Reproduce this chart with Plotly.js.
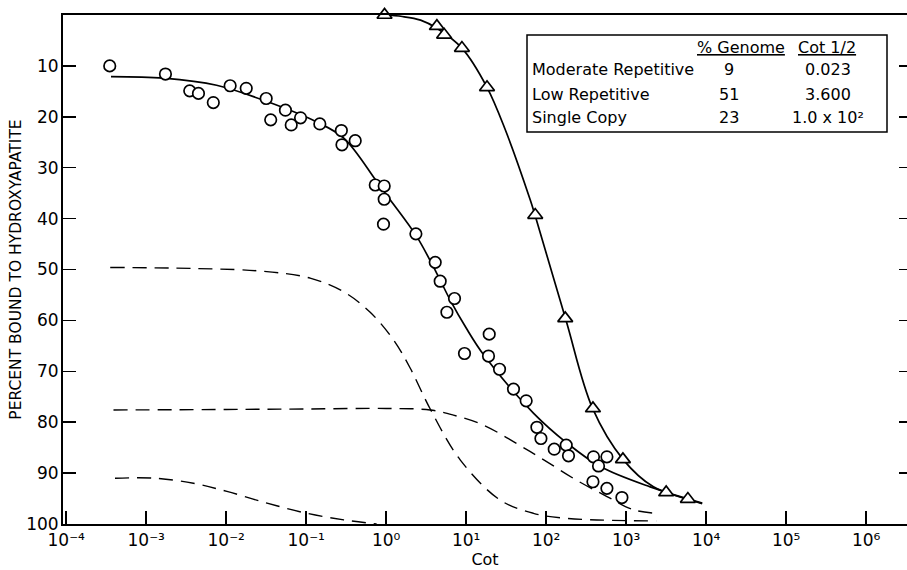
<!DOCTYPE html>
<html>
<head>
<meta charset="utf-8">
<script src="https://cdn.plot.ly/plotly-3.0.1.min.js"></script>
<style>html,body{margin:0;padding:0;background:#fff;}#chart{width:907px;height:570px;}</style>
</head>
<body>
<div id="chart"></div>
<script>
// ---- data ----
// open circles (whole DNA)
var circleCot = [0.00035, 0.00174, 0.0035, 0.0045, 0.0069, 0.0112, 0.0178, 0.0316, 0.036, 0.055, 0.065, 0.085, 0.148, 0.275, 0.28, 0.41, 0.73, 0.944, 0.944, 0.925, 2.35, 4.1, 4.73, 7.14, 5.74, 19.4, 9.52, 19.0, 26.1, 39.0, 56.2, 76.5, 85.9, 126, 178, 190, 390, 574, 451, 384, 574, 884];
var circlePct = [10.0, 11.6, 14.9, 15.4, 17.2, 13.9, 14.4, 16.4, 20.6, 18.7, 21.6, 20.2, 21.4, 22.7, 25.5, 24.7, 33.4, 33.6, 36.2, 41.1, 43.0, 48.6, 52.3, 55.7, 58.4, 62.7, 66.5, 67.0, 69.6, 73.5, 75.8, 81.0, 83.2, 85.3, 84.5, 86.6, 86.8, 86.8, 88.6, 91.7, 93.0, 94.8];
// triangles
var triCot = [0.953, 4.3, 5.3, 8.84, 18.2, 72.9, 173, 384, 910, 3160, 5900];
var triPct = [0.0, 2.2, 3.9, 6.5, 14.2, 39.3, 59.6, 77.3, 87.3, 93.8, 95.1];
// solid fitted curve through circles
var fitCircleCot = [0.000363, 0.00166, 0.00759, 0.0324, 0.135, 0.295, 0.759, 1.12, 2.4, 4.27, 6.31, 10, 16.6, 69.2, 182, 473, 1995, 8913];
var fitCirclePct = [12.1, 12.4, 13.8, 17.0, 21.0, 24.2, 32.7, 36.3, 43.5, 50.7, 56.0, 61.5, 66.8, 78.2, 84.1, 88.7, 92.7, 95.9];
// solid fitted curve through triangles
var fitTriCot = [0.953, 1.585, 2.69, 4.3, 8.83, 18.2, 30.9, 63.1, 72.4, 174, 380, 912, 2188, 5754, 8913];
var fitTriPct = [0.0, 0.3, 1.0, 2.6, 6.5, 14.2, 22.6, 36.3, 39.3, 59.6, 77.3, 87.3, 92.7, 95.1, 96.0];
// dashed component curves
var lowRepCot = [0.000355, 0.0039, 0.0266, 0.112, 0.295, 0.631, 1.23, 2.0, 3.55, 8.41, 26.6, 69.2, 182, 2371];
var lowRepPct = [49.6, 49.8, 50.3, 51.7, 54.4, 58.4, 63.8, 69.4, 77.4, 87.4, 95.3, 97.9, 98.9, 99.4];
var singleCot = [0.00039, 0.01, 0.1, 1.0, 3.55, 6.92, 16.6, 42.7, 93.3, 240, 575, 1230, 2399];
var singlePct = [77.6, 77.5, 77.4, 77.3, 77.6, 78.6, 80.6, 84.2, 87.4, 91.4, 94.6, 97.2, 97.9];
var modRepCot = [0.000407, 0.00126, 0.00389, 0.0102, 0.0324, 0.102, 0.295, 0.759];
var modRepPct = [91.0, 91.0, 92.0, 93.6, 95.9, 97.9, 99.2, 100.0];
// tick labels
var xTickVals = [1e-4, 1e-3, 1e-2, 1e-1, 1e0, 1e1, 1e2, 1e3, 1e4, 1e5, 1e6];
var xTickText = ['10\u207B\u2074', '10\u207B\u00B3', '10\u207B\u00B2', '10\u207B\u00B9', '10\u2070', '10\u00B9', '10\u00B2', '10\u00B3', '10\u2074', '10\u2075', '10\u2076'];
var yTickVals = [10, 20, 30, 40, 50, 60, 70, 80, 90, 100];
var yTickText = ['10', '20', '30', '40', '50', '60', '70', '80', '90', '100'];
// table in the box
var tableRows = ['Moderate Repetitive', 'Low Repetitive', 'Single Copy'];
var tableGenome = ['9', '51', '23'];
var tableCot = ['0.023', '3.600', '1.0 x 10\u00B2'];

// ---- layout helpers (pixel -> paper) ----
var L = 63, R = 907, T = 15, B = 524;
function px(x) { return (x - L) / (R - L); }
function py(y) { return (B - y) / (B - T); }

var FONT = 'DejaVu Sans, Liberation Sans, sans-serif';
var dashStyle = '14px,8px';

var traces = [
  {x: lowRepCot, y: lowRepPct, mode: 'lines', line: {color: 'black', width: 1.4, dash: dashStyle, shape: 'spline'}, hoverinfo: 'skip'},
  {x: singleCot, y: singlePct, mode: 'lines', line: {color: 'black', width: 1.4, dash: dashStyle, shape: 'spline'}, hoverinfo: 'skip'},
  {x: modRepCot, y: modRepPct, mode: 'lines', line: {color: 'black', width: 1.4, dash: dashStyle, shape: 'spline'}, hoverinfo: 'skip'},
  {x: fitCircleCot, y: fitCirclePct, mode: 'lines', line: {color: 'black', width: 1.7, shape: 'spline'}},
  {x: fitTriCot, y: fitTriPct, mode: 'lines', line: {color: 'black', width: 1.7, shape: 'spline'}, cliponaxis: false},
  {x: circleCot, y: circlePct, mode: 'markers', marker: {symbol: 'circle', size: 11.5, color: 'white', line: {color: 'black', width: 1.7}}, cliponaxis: false},
  {x: triCot, y: triPct, mode: 'markers', marker: {symbol: 'triangle-up', size: 13, color: 'white', line: {color: 'black', width: 1.7}}, cliponaxis: false},
  {x: [1], y: [50], yaxis: 'y2', mode: 'markers', marker: {opacity: 0}, hoverinfo: 'skip'}
];

var annotations = [];
function ann(text, x, y, xanchor) {
  annotations.push({text: text, x: px(x), y: py(y), xref: 'paper', yref: 'paper', xanchor: xanchor, yanchor: 'middle', showarrow: false, font: {family: FONT, size: 16, color: 'black'}});
}
ann('<u>% Genome</u>', 741, 47, 'center');
ann('<u>Cot 1/2</u>', 827, 47, 'center');
var rowY = [69, 94, 118];
for (var i = 0; i < tableRows.length; i++) {
  ann(tableRows[i], 530, rowY[i], 'left');
  ann(tableGenome[i], 729, rowY[i], 'center');
  ann(tableCot[i], 828, rowY[i], 'center');
}

var layout = {
  width: 907, height: 570,
  margin: {l: L, r: 907 - R, t: T, b: 570 - B},
  paper_bgcolor: 'white', plot_bgcolor: 'white',
  showlegend: false,
  font: {family: FONT, size: 17, color: 'black'},
  xaxis: {
    type: 'log', range: [-4.04, 6.51],
    tickvals: xTickVals, ticktext: xTickText,
    ticks: 'inside', ticklen: 13, tickwidth: 1.5, tickcolor: 'black',
    showline: true, linecolor: 'black', linewidth: 2, mirror: true,
    showgrid: false, zeroline: false,
    tickfont: {family: FONT, size: 17},
    title: {text: 'Cot', font: {family: FONT, size: 16}, standoff: 2}
  },
  yaxis: {
    range: [100, 0],
    tickvals: yTickVals, ticktext: yTickText,
    ticks: 'inside', ticklen: 13, tickwidth: 1.5, tickcolor: 'black',
    showline: true, linecolor: 'black', linewidth: 2,
    showgrid: false, zeroline: false,
    tickfont: {family: FONT, size: 17},
    ticklabelstandoff: -1,
    title: {text: 'PERCENT BOUND TO HYDROXYAPATITE', font: {family: FONT, size: 15.5}, standoff: 1}
  },
  yaxis2: {
    overlaying: 'y', side: 'right', range: [100, 0],
    tickvals: [10, 20, 30, 40, 50, 60, 70, 80, 90],
    ticks: 'inside', ticklen: 8, tickwidth: 1.5, tickcolor: 'black',
    showticklabels: false, showline: false, showgrid: false, zeroline: false
  },
  shapes: [
    {type: 'rect', xref: 'paper', yref: 'paper', x0: px(527), x1: px(887), y0: py(132), y1: py(35), line: {color: 'black', width: 1.5}, fillcolor: 'white'}
  ],
  annotations: annotations
};

Plotly.newPlot('chart', traces, layout, {staticPlot: true, displayModeBar: false});
</script>
</body>
</html>
